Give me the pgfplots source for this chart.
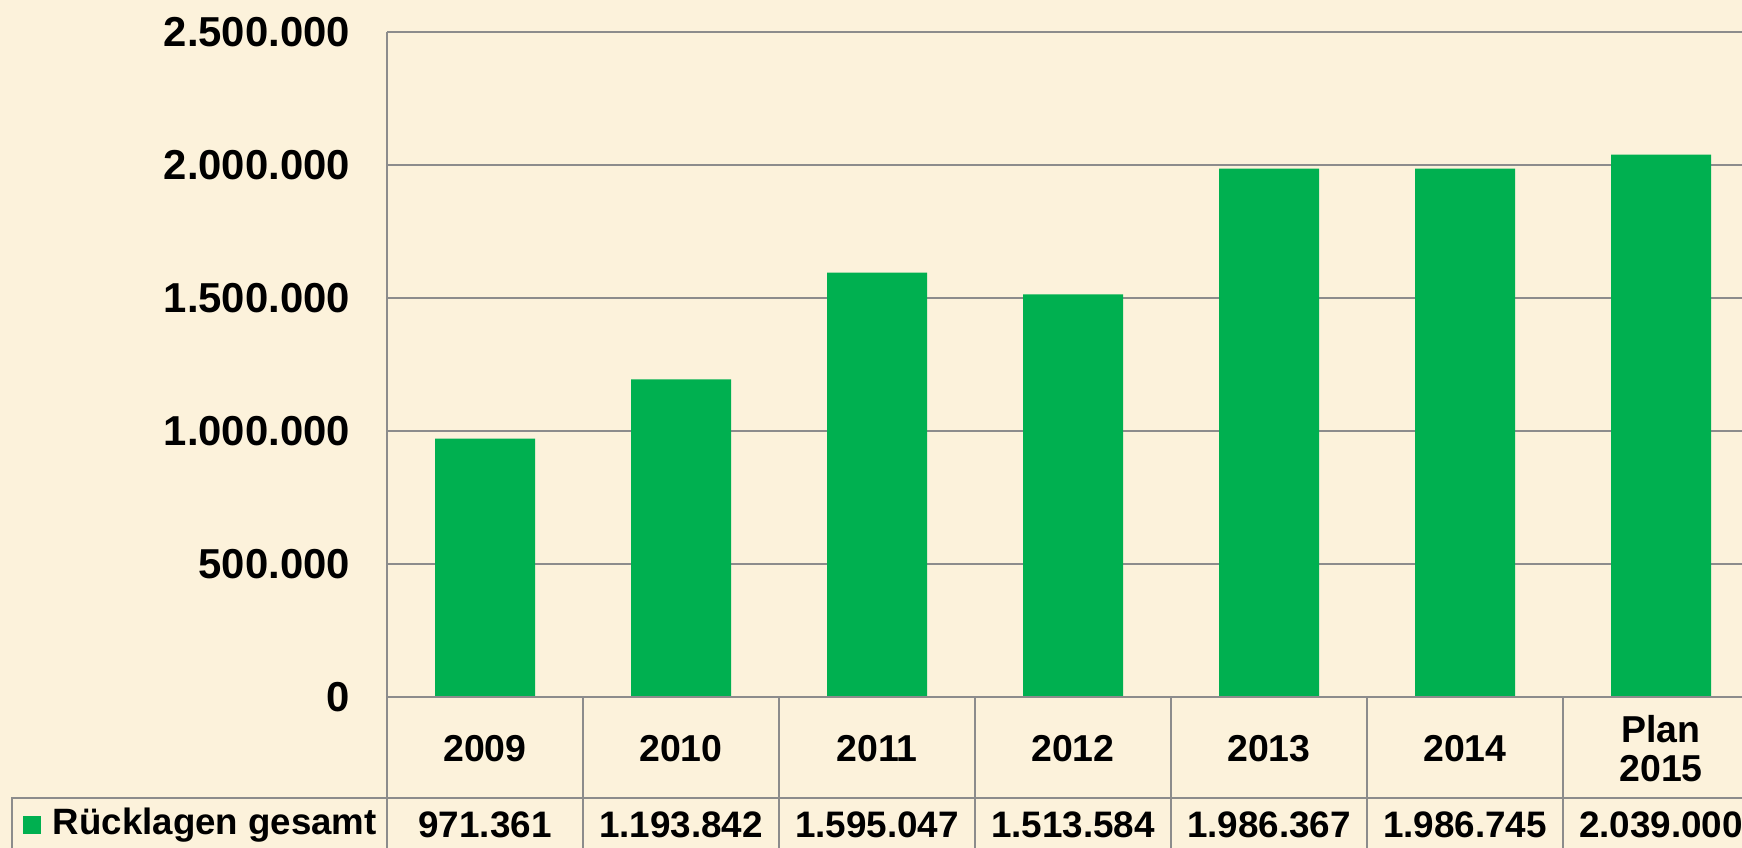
\documentclass[border=0pt]{standalone}
\usepackage{fontspec}
\setmainfont{Liberation Sans}
\usepackage{pgfplots}
\pgfplotsset{compat=1.18}
\usepackage{pgfplotstable}

\definecolor{bg}{RGB}{252,242,219}
\definecolor{bargreen}{RGB}{0,176,80}
\definecolor{rulegray}{RGB}{140,140,140}

% Ruecklagen gesamt, 2009 .. Plan 2015
\pgfplotstableread{
x y
0 971361
1 1193842
2 1595047
3 1513584
4 1986367
5 1986745
6 2039000
}\reserves

\begin{document}
\begin{tikzpicture}[tbl/.style={draw=rulegray, line width=0.6bp}]
\path[use as bounding box] (0,0) rectangle (435.5bp,212bp);
\clip (0,0) rectangle (435.5bp,212bp);
\fill[bg] (0,0) rectangle (435.5bp,212bp);
\begin{axis}[
  at={(96.75bp,37.75bp)}, anchor=south west,
  scale only axis, width=343bp, height=166.25bp,
  xmin=-0.5, xmax=6.5, ymin=0, ymax=2500000,
  ybar, bar width=25bp,
  axis line style={draw=none},
  ytick={0,500000,1000000,1500000,2000000,2500000},
  xtick={0,1,2,3,4,5,6},
  xticklabels={2009,2010,2011,2012,2013,2014,{Plan\\2015}},
  major tick length=0pt,
  ymajorgrids, grid style={rulegray, line width=0.6bp},
  scaled y ticks=false,
  /pgf/number format/assume math mode=true,
  yticklabel style={font=\bfseries\fontsize{10.5}{12}\selectfont,
    /pgf/number format/fixed, /pgf/number format/1000 sep={.}, xshift=-5.75bp},
  xticklabel style={font=\bfseries\fontsize{9.4}{9.8}\selectfont,
    anchor=center, align=center, yshift=-12.9bp},
  clip=false,
]
\addplot[fill=bargreen, draw=none] table {\reserves};

\draw[tbl] (axis cs:-0.5,2500000) -- ([yshift=-40bp]axis cs:-0.5,0);
\pgfplotsinvokeforeach{0.5,1.5,2.5,3.5,4.5,5.5,6.5}{
  \draw[tbl] (axis cs:#1,0) -- ([yshift=-40bp]axis cs:#1,0);
}
\draw[tbl] (axis cs:-0.5,0) -- (axis cs:6.5,0);

\begin{scope}[every node/.style={font=\bfseries\fontsize{9.25}{10}\selectfont, anchor=center}]
\node at (axis cs:0,0) [yshift=-32bp] {971.361};
\node at (axis cs:1,0) [yshift=-32bp] {1.193.842};
\node at (axis cs:2,0) [yshift=-32bp] {1.595.047};
\node at (axis cs:3,0) [yshift=-32bp] {1.513.584};
\node at (axis cs:4,0) [yshift=-32bp] {1.986.367};
\node at (axis cs:5,0) [yshift=-32bp] {1.986.745};
\node at (axis cs:6,0) [yshift=-32bp] {2.039.000};
\end{scope}
\end{axis}

% legend cell of the data table
\draw[tbl] (3bp,0) -- (3bp,12.5bp) -- (435.5bp,12.5bp);
\fill[bargreen] (5.75bp,3.6bp) rectangle (10.25bp,8.1bp);
\node[anchor=west, inner sep=0pt, font=\bfseries\fontsize{9.2}{10}\selectfont]
  at (13bp,5.75bp) {Rücklagen gesamt};
\end{tikzpicture}
\end{document}
